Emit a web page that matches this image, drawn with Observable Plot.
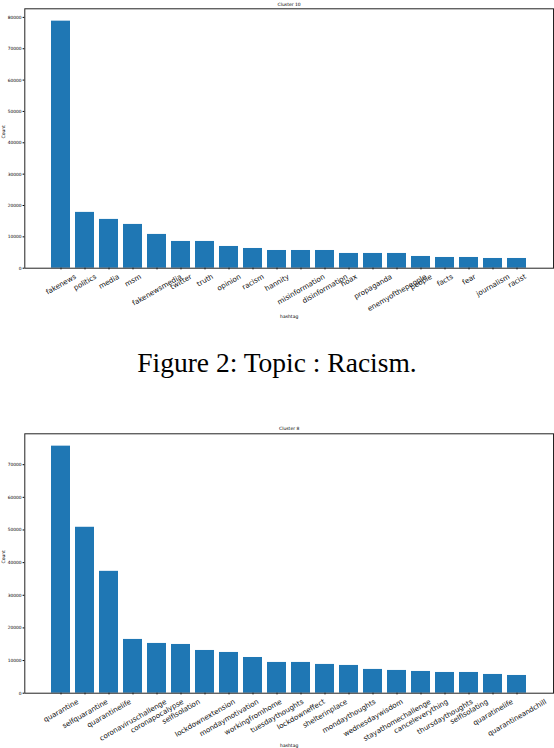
<!DOCTYPE html>
<html><head><meta charset="utf-8">
<script src="https://cdn.jsdelivr.net/npm/d3@7"></script>
<script src="https://cdn.jsdelivr.net/npm/@observablehq/plot@0.6"></script>
<style>
body{margin:0;background:#fff;}
#wrap{position:relative;width:554px;height:748px;overflow:hidden;background:#fff;}
#top{position:absolute;left:0;top:0;}
#bottom{position:absolute;left:0;top:420px;}
#caption{position:absolute;left:0;top:348px;width:554px;text-align:center;font-family:"Liberation Serif","Times New Roman",serif;font-size:27.5px;line-height:30px;color:#000;}
</style></head><body>
<div id="wrap"><div id="top"></div><div id="caption">Figure 2: Topic : Racism.</div><div id="bottom"></div></div>
<script>
const topTitle = "Cluster 10";
const topHashtags = ["fakenews","politics","media","msm","fakenewsmedia","twitter","truth","opinion","racism","hannity","misinformation","disinformation","hoax","propaganda","enemyofthepeople","people","facts","fear","journalism","racist"];
const topCounts = [78800,17800,15560,13960,10770,8530,8530,6930,6290,5650,5650,5650,4700,4700,4700,3740,3420,3420,3100,3100];
const topYTicks = [0,10000,20000,30000,40000,50000,60000,70000,80000];

const bottomTitle = "Cluster 8";
const bottomHashtags = ["quarantine","selfquarantine","quarantinelife","coronaviruschallenge","coronapocalypse","selfisolation","lockdownextension","mondaymotivation","workingfromhome","tuesdaythoughts","lockdowneffect","shelterinplace","mondaythoughts","wednesdaywisdom","stayathomechallenge","canceleverything","thursdaythoughts","selfisolating","quaratinelife","quarantineandchill"];
const bottomCounts = [75680,50830,37330,16470,15240,14930,13090,12480,10940,9420,9420,8810,8500,7280,6970,6660,6350,6350,5740,5430];
const bottomYTicks = [0,10000,20000,30000,40000,50000,60000,70000];

const xLabel = "hashtag";
const yLabel = "Count";

const labelFont = 7.1;
const ctx = document.createElement("canvas").getContext("2d");
ctx.font = `${labelFont}px "DejaVu Sans"`;

function chart({title, hashtags, counts, yTicks, height, marginTop, marginBottom, titleDy, xLabelDy}) {
  const data = hashtags.map((tag, i) => ({tag, count: counts[i]}));
  const h = labelFont * 1.17;
  const labelMarks = hashtags.map(tag => {
    const w = ctx.measureText(tag).width;
    const dy = 4.2 + 0.25 * w + 0.433 * h;
    return Plot.text([tag], {x: d => d, text: d => d, frameAnchor: "bottom", rotate: -30,
      textAnchor: "middle", lineAnchor: "middle", fontSize: labelFont, dy, fill: "#111"});
  });
  return Plot.plot({
    width: 554, height, marginLeft: 24.3, marginRight: 1, marginTop, marginBottom,
    style: {fontFamily: "DejaVu Sans", background: "white", color: "#000"},
    x: {type: "band", domain: hashtags, paddingInner: 0.2, paddingOuter: 0.99},
    y: {domain: [0, d3.max(counts) * 1.05]},
    marks: [
      Plot.barY(data, {x: "tag", y: "count", fill: "#1f77b4"}),
      Plot.axisY({ticks: yTicks, tickSize: 1.7, tickPadding: 1.5, fontSize: 4.4, tickFormat: d => String(d), label: null, stroke: "#000"}),
      Plot.axisX({tickSize: 1.7, tickFormat: () => "", label: null, stroke: "#000"}),
      Plot.frame({stroke: "#222", strokeWidth: 1}),
      ...labelMarks,
      Plot.text([title], {frameAnchor: "top", dy: titleDy, lineAnchor: "middle", fontSize: 4.5, fill: "#000"}),
      Plot.text([yLabel], {frameAnchor: "left", rotate: -90, dx: -21, lineAnchor: "middle", fontSize: 4.5, fill: "#000"}),
      Plot.text([xLabel], {frameAnchor: "bottom", dy: xLabelDy, lineAnchor: "middle", fontSize: 4.5, fill: "#000"})
    ]
  });
}

document.getElementById("top").append(chart({
  title: topTitle, hashtags: topHashtags, counts: topCounts, yTicks: topYTicks,
  height: 330, marginTop: 8.3, marginBottom: 62.3, titleDy: -4.5, xLabelDy: 48
}));
document.getElementById("bottom").append(chart({
  title: bottomTitle, hashtags: bottomHashtags, counts: bottomCounts, yTicks: bottomYTicks,
  height: 328, marginTop: 13.3, marginBottom: 55.3, titleDy: -5, xLabelDy: 52
}));
</script>
</body></html>
